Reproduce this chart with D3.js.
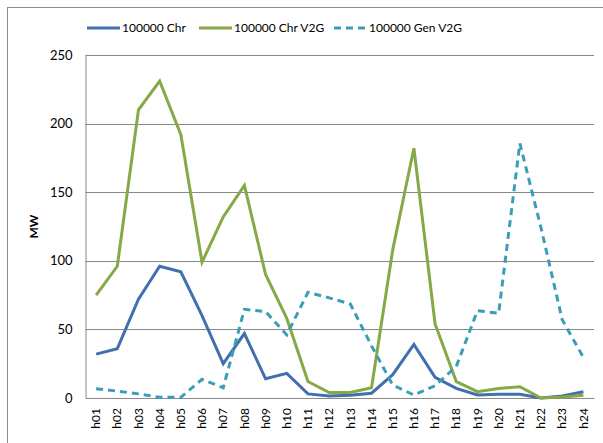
<!DOCTYPE html>
<html>
<head>
<meta charset="utf-8">
<script src="https://cdn.jsdelivr.net/npm/d3@7"></script>
<style>
  body { margin: 0; background: #fff; }
  text { font-family: Lato, "Liberation Sans", sans-serif; fill: #000; }
</style>
</head>
<body>
<div id="chart"></div>
<script>
const hours = ["h01","h02","h03","h04","h05","h06","h07","h08","h09","h10","h11","h12",
               "h13","h14","h15","h16","h17","h18","h19","h20","h21","h22","h23","h24"];
const chr = [32, 36, 72, 96, 92, 60, 25, 47, 14, 18, 3, 1.5, 2, 3.5, 17, 39, 15, 7, 2.2, 2.7, 2.7, 0, 1.5, 4.6];
const chrV2G = [75, 96, 210, 231, 192, 99, 132, 155, 90, 58, 12, 4, 4, 7.5, 108, 182, 54, 12, 4.6, 7, 8.2, 0, 0.7, 2];
const genV2G = [6.8, 5, 3, 0.5, 0.5, 13.6, 7.5, 64.6, 63, 46, 77, 73, 68.5, 38, 9.5, 2.2, 9, 23, 63.7, 61.7, 185.6, 124, 57, 29.6];
const yTicks = [0, 50, 100, 150, 200, 250];

const series = [
    { name: "100000 Chr", values: chr, color: "#4170ae", dash: null },
    { name: "100000 Chr V2G", values: chrV2G, color: "#86a946", dash: null },
    { name: "100000 Gen V2G", values: genV2G, color: "#3c9db8", dash: "7,5" }
];

const width = 603, height = 443;
const margin = { top: 55, right: 9, bottom: 45, left: 85.5 };

const svg = d3.select("#chart").append("svg")
    .attr("width", width)
    .attr("height", height);

// outer chart frame (runs off the picture on the right and bottom)
svg.append("rect")
    .attr("x", 7.5).attr("y", 7.5)
    .attr("width", width + 20).attr("height", height + 20)
    .attr("fill", "none")
    .attr("stroke", "#8c8c8c");

const xScale = d3.scaleBand()
    .domain(hours)
    .range([margin.left, width - margin.right]);

const yScale = d3.scaleLinear()
    .domain([0, 250])
    .range([height - margin.bottom, margin.top]);

// gridlines
svg.append("g")
    .selectAll("line")
    .data(yTicks.filter(d => d > 0))
    .enter()
    .append("line")
    .attr("x1", margin.left)
    .attr("x2", width - margin.right)
    .attr("y1", d => Math.round(yScale(d)) + 0.5)
    .attr("y2", d => Math.round(yScale(d)) + 0.5)
    .attr("stroke", "#888")
    .attr("stroke-width", 1);

// y axis
const yAxis = d3.axisLeft(yScale).tickValues(yTicks).tickSize(0).tickPadding(13);
const gy = svg.append("g")
    .attr("transform", `translate(${margin.left},0)`)
    .call(yAxis);
gy.select(".domain").attr("stroke", "#888");
gy.selectAll("text").attr("font-size", 13);

// x axis
const xAxis = d3.axisBottom(xScale).tickSize(0).tickPadding(0);
const gx = svg.append("g")
    .attr("transform", `translate(0,${height - margin.bottom})`)
    .call(xAxis);
gx.select(".domain").attr("stroke", "#888");
gx.selectAll("text")
    .attr("font-size", 12)
    .attr("transform", "rotate(-90)")
    .attr("text-anchor", "end")
    .attr("x", -10)
    .attr("y", 0)
    .attr("dy", "0.35em");

// y axis title
svg.append("text")
    .attr("transform", `translate(38,${yScale(125)}) rotate(-90)`)
    .attr("text-anchor", "middle")
    .attr("font-size", 12)
    .attr("font-weight", "bold")
    .text("MW");

// lines
const line = d3.line()
    .x((d, i) => xScale(hours[i]) + xScale.bandwidth() / 2)
    .y(d => yScale(d));

svg.append("g")
    .selectAll("path")
    .data(series)
    .enter()
    .append("path")
    .attr("d", d => line(d.values))
    .attr("fill", "none")
    .attr("stroke", d => d.color)
    .attr("stroke-width", 3)
    .attr("stroke-linejoin", "miter")
    .attr("stroke-dasharray", d => d.dash);

// legend
const legendX = [87, 199, 334];
const legend = svg.append("g")
    .selectAll("g")
    .data(series)
    .enter()
    .append("g")
    .attr("transform", (d, i) => `translate(${legendX[i]},28)`);

legend.append("line")
    .attr("x1", 0).attr("x2", 33)
    .attr("stroke", d => d.color)
    .attr("stroke-width", 3)
    .attr("stroke-dasharray", d => d.dash);

legend.append("text")
    .attr("x", 35)
    .attr("dy", "0.35em")
    .attr("font-size", 12)
    .text(d => d.name);
</script>
</body>
</html>
